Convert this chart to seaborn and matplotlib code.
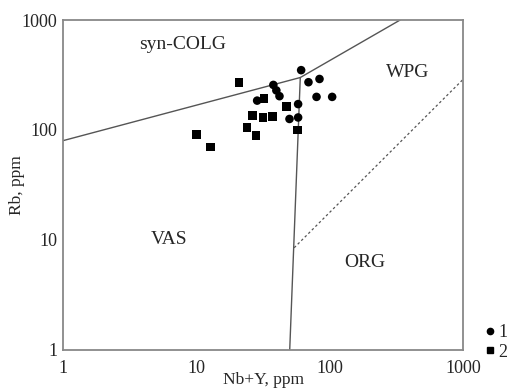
import numpy as np
import pandas as pd
import matplotlib
matplotlib.use("Agg")
import matplotlib.pyplot as plt
import seaborn as sns
from matplotlib.lines import Line2D


# Data (Nb+Y, Rb in ppm)
GROUP1_NBY = [60.9, 28.5, 37.7, 39.7, 41.9, 69.1, 83.6, 79.4, 104, 57.8, 57.8, 49.8]
GROUP1_RB = [350, 185, 257, 229, 203, 272, 291, 200, 200, 172, 130, 126]

GROUP2_NBY = [20.9, 10.0, 12.8, 32.0, 26.4, 31.6, 37.2, 24.0, 28.0, 47.4, 57.1]
GROUP2_RB = [271, 91, 70, 193, 135, 130, 133, 105, 89, 163, 100]

# Field boundaries
UPPER_X = [1, 60, 336]
UPPER_Y = [80, 300, 1000]
VERT_X = [60, 50]
VERT_Y = [300, 1]
DASH_X = [54, 1000]
DASH_Y = [8.5, 290]

FIELD_LABELS = ["syn-COLG", "WPG", "VAS", "ORG"]
FIELD_X = [7.9, 385, 6.2, 183]
FIELD_Y = [593, 330, 10, 6.3]

TICKS = [1, 10, 100, 1000]


def build_frame():
    df1 = pd.DataFrame({"nby": GROUP1_NBY, "rb": GROUP1_RB, "group": "1"})
    df2 = pd.DataFrame({"nby": GROUP2_NBY, "rb": GROUP2_RB, "group": "2"})
    return pd.concat([df1, df2], ignore_index=True)


def main():
    sns.set_style("white")
    plt.rcParams["font.family"] = ["Liberation Serif", "DejaVu Serif"]
    plt.rcParams["font.size"] = 13

    df = build_frame()

    fig = plt.figure(figsize=(5.14, 3.9), dpi=100)
    ax = fig.add_axes([0.1226, 0.1026, 0.7788, 0.8461])

    line_col = "#555555"
    sns.lineplot(x=UPPER_X, y=UPPER_Y, ax=ax, color=line_col, lw=1.0, sort=False)
    sns.lineplot(x=VERT_X, y=VERT_Y, ax=ax, color=line_col, lw=1.0, sort=False)
    ax.plot(DASH_X, DASH_Y, color=line_col, lw=0.9, ls=(0, (2, 2)))

    sns.scatterplot(data=df, x="nby", y="rb", style="group",
                    markers={"1": "o", "2": "s"}, color="black",
                    s=38, edgecolor="none", ax=ax, legend=False, zorder=3)

    ax.set_xscale("log")
    ax.set_yscale("log")
    ax.set_xlim(1, 1000)
    ax.set_ylim(1, 1000)
    ax.set_xticks(TICKS)
    ax.set_xticklabels([str(t) for t in TICKS])
    ax.set_yticks(TICKS)
    ax.set_yticklabels([str(t) for t in TICKS])
    ax.minorticks_off()
    ax.tick_params(direction="in", length=7, width=1.0, color="#777777",
                   labelsize=13)
    ax.tick_params(axis="x", pad=7)
    ax.tick_params(axis="y", pad=4)

    for sp in ax.spines.values():
        sp.set_color("#888888")
        sp.set_linewidth(1.3)

    for lab, x, y in zip(FIELD_LABELS, FIELD_X, FIELD_Y):
        ax.text(x, y, lab, ha="center", va="center", fontsize=14)

    ax.set_xlabel("Nb+Y, ppm", fontsize=12.5)
    ax.set_ylabel("Rb, ppm", fontsize=12.5)
    ax.xaxis.label.set_va("center")
    ax.yaxis.label.set_va("center")
    ax.xaxis.set_label_coords(0.5, -0.092)
    ax.yaxis.set_label_coords(-0.115, 0.5)

    handles = [
        Line2D([], [], marker="o", color="black", ls="none", markersize=4.5),
        Line2D([], [], marker="s", color="black", ls="none", markersize=4.5),
    ]
    fig.legend(handles, ["1", "2"], loc="center left",
               bbox_to_anchor=(0.945, 0.122), frameon=False,
               handletextpad=0.2, labelspacing=0.15, borderpad=0,
               handlelength=0.5, handleheight=0.7, fontsize=13,
               borderaxespad=0)

    fig.savefig("out.png", dpi=100)


if __name__ == "__main__":
    main()
